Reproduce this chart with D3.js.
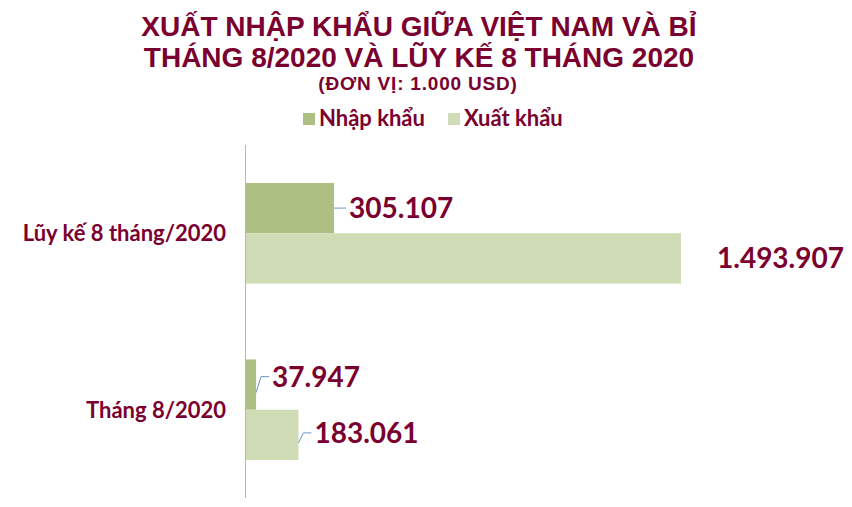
<!DOCTYPE html>
<html><head><meta charset="utf-8">
<script src="https://cdn.jsdelivr.net/npm/d3@7"></script>
<style>body{margin:0;background:#fff}svg{display:block}</style>
</head><body><svg id="c" width="852" height="507"></svg>
<script>
const categories = ["Lũy kế 8 tháng/2020", "Tháng 8/2020"];
const seriesNames = ["Nhập khẩu", "Xuất khẩu"];
const importValues = [305107, 37947];
const exportValues = [1493907, 183061];
const valueLabels = [["305.107", "37.947"], ["1.493.907", "183.061"]];
const titleLines = ["XUẤT NHẬP KHẨU GIỮA VIỆT NAM VÀ BỈ", "THÁNG 8/2020 VÀ LŨY KẾ 8 THÁNG 2020"];
const subtitle = "(ĐƠN VỊ: 1.000 USD)";

const colors = ["#adbf82", "#cfdcb5"];
const textColor = "#7a0030";
const svg = d3.select("#c");
const labelFont = "Lato, 'DejaVu Sans', sans-serif";

// Title
svg.append("g").selectAll("text").data(titleLines).join("text")
  .attr("x", 419).attr("y", (d, i) => 36 + i * 31)
  .attr("text-anchor", "middle")
  .attr("font-family", "'Liberation Sans', Arial, sans-serif")
  .attr("font-weight", "bold").attr("font-size", 28)
  .attr("fill", textColor).text(d => d);
svg.append("text").attr("x", 418).attr("y", 90).attr("text-anchor", "middle")
  .attr("font-family", "'Liberation Sans', Arial, sans-serif")
  .attr("font-weight", "bold").attr("font-size", 19)
  .attr("letter-spacing", 0.8)
  .attr("fill", textColor).text(subtitle);

// Legend
const legendX = [303, 448];
const lg = svg.append("g").selectAll("g").data(seriesNames).join("g")
  .attr("transform", (d, i) => `translate(${legendX[i]},113)`);
lg.append("rect").attr("width", 12).attr("height", 12).attr("fill", (d, i) => colors[i]);
lg.append("text").attr("x", 16).attr("y", 13)
  .attr("font-family", labelFont).attr("font-weight", "bold").attr("font-size", 22)
  .attr("fill", textColor).text(d => d);

// Scales
const x0 = 245;
const x = d3.scaleLinear().domain([0, 1493907]).range([x0, 681]);
const y = d3.scaleBand().domain(categories).range([145, 498]).paddingInner(0.43).paddingOuter(0.215);
const ys = d3.scaleBand().domain([0, 1]).range([0, y.bandwidth()]);

const data = categories.map((c, ci) => [importValues[ci], exportValues[ci]].map((v, si) => ({c, ci, si, v, label: valueLabels[si][ci]})));
const flat = data.flat();

svg.append("g").selectAll("rect").data(flat).join("rect")
  .attr("x", x0).attr("y", d => y(d.c) + ys(d.si))
  .attr("width", d => x(d.v) - x0).attr("height", ys.bandwidth())
  .attr("fill", d => colors[d.si]);

// Axis line
svg.append("line").attr("x1", x0 + 0.5).attr("x2", x0 + 0.5).attr("y1", 145).attr("y2", 498)
  .attr("stroke", "#a3b6dc").attr("stroke-width", 1);

// Category labels
svg.append("g").selectAll("text").data(categories).join("text")
  .attr("x", 226).attr("y", d => y(d) + y.bandwidth() / 2 + 8)
  .attr("text-anchor", "end")
  .attr("font-family", labelFont).attr("font-weight", "bold").attr("font-size", 22)
  .attr("fill", textColor).text(d => d);

// Value labels with leader lines
const offsets = {
  "0-0": {dx: 15, dy: 0, lead: "h"},
  "0-1": {dx: 36, dy: 0, lead: "none"},
  "1-0": {dx: 16, dy: -8, lead: "angle"},
  "1-1": {dx: 16, dy: -2, lead: "angle"}
};
flat.forEach(d => {
  const cy = y(d.c) + ys(d.si) + ys.bandwidth() / 2;
  const ex = x(d.v);
  const o = offsets[d.ci + "-" + d.si];
  const tx = ex + o.dx, ty = cy + o.dy;
  if (o.lead === "h") {
    svg.append("line").attr("x1", ex).attr("x2", tx - 3).attr("y1", cy).attr("y2", cy)
      .attr("stroke", "#6f95cc").attr("stroke-width", 1);
  } else if (o.lead === "angle") {
    svg.append("path").attr("d", `M${ex},${cy + 8}L${ex + 5},${ty}L${tx - 3},${ty}`)
      .attr("fill", "none").attr("stroke", "#6f95cc").attr("stroke-width", 1);
  }
  svg.append("text").attr("x", tx).attr("y", ty + 10)
    .attr("font-family", labelFont).attr("font-weight", "bold").attr("font-size", 28)
    .attr("fill", textColor).text(d.label);
});
</script></body></html>
